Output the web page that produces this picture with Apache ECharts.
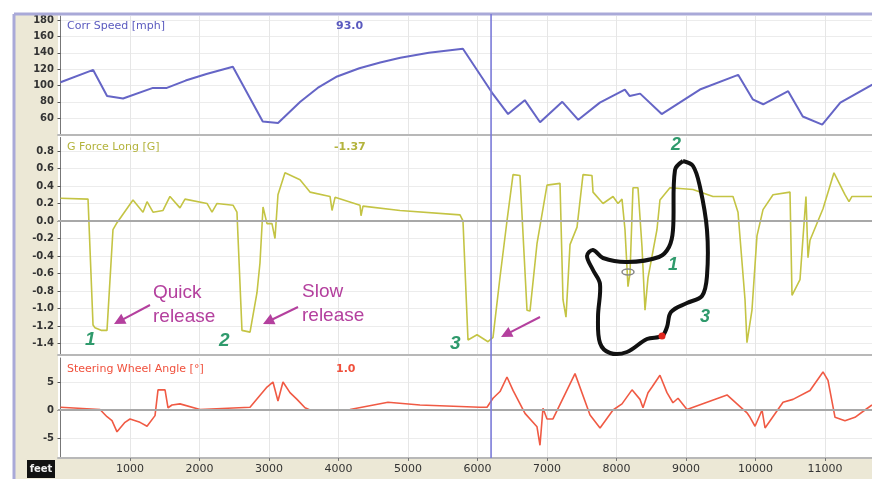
<!DOCTYPE html>
<html>
<head>
<meta charset="utf-8">
<script src="https://cdn.jsdelivr.net/npm/echarts@6/dist/echarts.min.js"></script>
<style>
    html, body { margin: 0; padding: 0; background: #fff; }
    #chart { width: 872px; height: 479px; }
</style>
</head>
<body>
<div id="chart"></div>
<script>
// distance along the lap (feet) and the three logged channels
const speedDist = [0, 470, 670, 900, 1330, 1530, 1800, 2100, 2480, 2910, 3130, 3450, 3700, 3980, 4300, 4600, 4890, 5300, 5790, 6210, 6440, 6680, 6900, 7220, 7450, 7760, 8120, 8190, 8340, 8650, 9200, 9750, 9960, 10110, 10470, 10680, 10960, 11220, 11680]
const speedVal = [104, 119, 87, 84, 97, 97, 106, 114, 123, 56, 54, 80, 97, 111, 121, 128, 134, 140, 145, 91, 65, 82, 55, 80, 58, 79, 95, 87, 90, 65, 95, 113, 83, 77, 93, 62, 52, 79, 101]

const gDist = [0, 396, 468, 496, 583, 669, 755, 813, 1043, 1187, 1245, 1331, 1475, 1575, 1719, 1791, 2108, 2180, 2252, 2482, 2539, 2611, 2727, 2827, 2870, 2914, 2971, 3043, 3086, 3129, 3230, 3446, 3590, 3878, 3907, 3950, 4309, 4324, 4352, 4885, 5748, 5791, 5863, 5993, 6151, 6223, 6324, 6424, 6511, 6611, 6712, 6755, 6856, 7000, 7187, 7230, 7273, 7331, 7432, 7518, 7647, 7662, 7806, 7950, 8021, 8079, 8122, 8165, 8194, 8237, 8309, 8367, 8410, 8453, 8582, 8625, 8769, 9100, 9388, 9676, 9748, 9849, 9877, 9949, 10021, 10108, 10252, 10496, 10525, 10640, 10726, 10755, 10784, 10971, 11129, 11287, 11345, 11388, 11676]
const gVal = [0.26, 0.25, -1.19, -1.22, -1.25, -1.25, -0.1, -0.02, 0.24, 0.1, 0.22, 0.1, 0.12, 0.28, 0.15, 0.25, 0.2, 0.1, 0.2, 0.18, 0.1, -1.25, -1.27, -0.82, -0.48, 0.16, -0.03, -0.03, -0.2, 0.3, 0.55, 0.47, 0.33, 0.28, 0.12, 0.27, 0.18, 0.06, 0.17, 0.12, 0.07, 0.0, -1.36, -1.3, -1.38, -1.33, -0.64, 0.0, 0.53, 0.52, -1.02, -1.03, -0.26, 0.41, 0.43, -0.9, -1.1, -0.27, -0.07, 0.53, 0.52, 0.33, 0.2, 0.28, 0.2, 0.25, -0.1, -0.75, -0.6, 0.38, 0.38, -0.3, -1.02, -0.65, -0.1, 0.24, 0.38, 0.36, 0.28, 0.28, 0.1, -0.9, -1.39, -1.02, -0.17, 0.13, 0.3, 0.33, -0.85, -0.67, 0.28, -0.42, -0.22, 0.14, 0.55, 0.3, 0.22, 0.28, 0.28]

const steerDist = [0, 568, 669, 741, 813, 928, 1000, 1144, 1245, 1360, 1403, 1504, 1547, 1604, 1719, 2007, 2727, 2971, 3057, 3129, 3201, 3302, 3403, 3518, 3590, 4165, 4712, 5172, 6036, 6137, 6223, 6324, 6424, 6511, 6683, 6856, 6899, 6942, 7000, 7086, 7403, 7619, 7763, 7950, 8079, 8223, 8338, 8381, 8453, 8511, 8625, 8726, 8812, 8885, 9014, 9590, 9877, 9921, 9993, 10094, 10137, 10396, 10539, 10784, 10971, 11043, 11144, 11287, 11431, 11575, 11676]
const steerVal = [0.5, 0.1, -1.2, -1.9, -3.9, -2.2, -1.6, -2.2, -2.9, -1.0, 3.6, 3.6, 0.4, 0.9, 1.1, 0.1, 0.5, 4.1, 5.0, 1.6, 5.0, 3.1, 1.9, 0.4, 0.0, 0.1, 1.4, 0.9, 0.5, 0.5, 2.1, 3.3, 5.9, 3.5, -0.6, -3.0, -6.3, 0.3, -1.6, -1.6, 6.5, -0.9, -3.2, 0.0, 1.1, 3.6, 1.9, 0.4, 3.1, 4.1, 6.2, 3.1, 1.3, 2.1, 0.1, 2.7, -0.5, -1.3, -2.9, 0.0, -3.2, 1.4, 1.9, 3.5, 6.8, 5.3, -1.3, -1.9, -1.3, 0.0, 0.9]

const xTicks = [1000, 2000, 3000, 4000, 5000, 6000, 7000, 8000, 9000, 10000, 11000]
const speedTicks = [60, 80, 100, 120, 140, 160, 180]
const gTicks = [-1.4, -1.2, -1.0, -0.8, -0.6, -0.4, -0.2, 0.0, 0.2, 0.4, 0.6, 0.8]
const steerTicks = [-5, 0, 5]

const cursorDist = 6195
const readouts = ['93.0', '-1.37', '1.0']

const pairs = (xs, ys) => xs.map((x, i) => [x, ys[i]])

const labelFont = { fontFamily: 'DejaVu Sans', fontSize: 10, color: '#333', fontWeight: 'bold' }
const noteFont = 'Liberation Sans'
const purple = '#b4409e'
const green = '#2f9a6c'

const xAxisBase = (gridIndex, showLabels) => ({
    type: 'value',
    gridIndex,
    min: -36,
    max: 11676,
    axisLine: { show: true, onZero: false, lineStyle: { color: '#b8b8b8', width: 2 } },
    axisTick: { show: showLabels, customValues: xTicks, length: 3, lineStyle: { color: '#777' } },
    axisLabel: {
        show: showLabels, customValues: xTicks, ...labelFont, fontWeight: 'normal', fontSize: 11, margin: 6,
        formatter: v => String(v)
    },
    splitLine: { show: true, lineStyle: { color: '#e6e6e6' } },
})

const yAxisBase = (gridIndex, min, max, ticks, digits) => ({
    type: 'value',
    gridIndex,
    min,
    max,
    axisLine: { show: true, lineStyle: { color: '#777' } },
    axisTick: { show: true, customValues: ticks, length: 3, lineStyle: { color: '#555' } },
    axisLabel: { customValues: ticks, ...labelFont, margin: 4, formatter: v => v.toFixed(digits) },
    splitLine: { show: true, lineStyle: { color: '#ececec' } },
})

const zeroLine = {
    silent: true,
    symbol: 'none',
    label: { show: false },
    lineStyle: { color: '#a8a8a8', width: 2, type: 'solid' },
    data: [{ yAxis: 0 }],
}

const chart = echarts.init(document.getElementById('chart'))

const option = {
    animation: false,
    backgroundColor: '#fff',
    grid: [
        { left: 58, right: 0, top: 16, height: 118.5 },
        { left: 58, right: 0, top: 137.5, height: 217 },
        { left: 58, right: 0, top: 358, height: 100 },
    ],
    xAxis: [xAxisBase(0, false), xAxisBase(1, false), xAxisBase(2, true)],
    yAxis: [
        yAxisBase(0, 40, 185, speedTicks, 0),
        yAxisBase(1, -1.526, 0.954, gTicks, 1),
        yAxisBase(2, -8.57, 9.29, steerTicks, 0),
    ],
    series: [
        {
            name: 'Corr Speed [mph]',
            type: 'line',
            xAxisIndex: 0,
            yAxisIndex: 0,
            data: pairs(speedDist, speedVal),
            showSymbol: false,
            clip: false,
            lineStyle: { color: '#6565c6', width: 2 },
        },
        {
            name: 'G Force Long [G]',
            type: 'line',
            xAxisIndex: 1,
            yAxisIndex: 1,
            data: pairs(gDist, gVal),
            showSymbol: false,
            lineStyle: { color: '#c4c444', width: 1.6 },
            markLine: zeroLine,
            z: 3,
        },
        {
            name: 'Steering Wheel Angle [°]',
            type: 'line',
            xAxisIndex: 2,
            yAxisIndex: 2,
            data: pairs(steerDist, steerVal),
            showSymbol: false,
            clip: false,
            lineStyle: { color: '#f05a44', width: 1.6 },
            markLine: zeroLine,
            z: 3,
        },
    ],
}
chart.setOption(option)

// cursor position comes from the x scale
const cursorX = chart.convertToPixel({ xAxisIndex: 0 }, cursorDist)

const arrow = (x1, y1, x2, y2) => {
    const a = Math.atan2(y2 - y1, x2 - x1)
    const s = 8
    return [
        { type: 'line', shape: { x1, y1, x2: x2 - Math.cos(a) * s, y2: y2 - Math.sin(a) * s }, style: { stroke: purple, lineWidth: 2 }, z: 20 },
        {
            type: 'polygon',
            shape: {
                points: [
                    [x2, y2],
                    [x2 - Math.cos(a) * s * 1.4 + Math.sin(a) * s * 0.7, y2 - Math.sin(a) * s * 1.4 - Math.cos(a) * s * 0.7],
                    [x2 - Math.cos(a) * s * 1.4 - Math.sin(a) * s * 0.7, y2 - Math.sin(a) * s * 1.4 + Math.cos(a) * s * 0.7],
                ]
            },
            style: { fill: purple },
            z: 20,
        },
    ]
}

const txt = (x, y, text, fill, fontSize, extra = {}) => ({
    type: 'text', x, y, z: 20,
    style: { text, fill, fontSize, fontFamily: noteFont, ...extra },
})

const header = (y, title, value, color) => [
    txt(67, y, title, color, 11, { fontFamily: 'DejaVu Sans', verticalAlign: 'middle' }),
    txt(value.startsWith('-') ? 334 : 336, y, value, color, 11, { fontFamily: 'DejaVu Sans', fontWeight: 'bold', verticalAlign: 'middle' }),
]

const trackMap = [
    [683, 161], [675, 170], [673, 230], [669, 247], [659, 257], [627, 262], [603, 258],
    [593, 250], [587, 256], [593, 270], [600, 284], [598, 317], [600, 343], [610, 353],
    [627, 352], [647, 339], [662, 336], [667, 327], [671, 312], [687, 303], [702, 296],
    [707, 276], [707, 230], [700, 187], [693, 166], [683, 161],
]

chart.setOption({
    graphic: [
        // beige side strip and bottom strip
        { type: 'rect', shape: { x: 14, y: 14, width: 44, height: 465 }, style: { fill: '#ece8d6' }, z: -10 },
        { type: 'rect', shape: { x: 14, y: 459, width: 858, height: 20 }, style: { fill: '#ece8d6' }, z: -10 },
        { type: 'line', shape: { x1: 14, y1: 14, x2: 872, y2: 14 }, style: { stroke: '#a9a9d8', lineWidth: 3 }, z: 10 },
        { type: 'line', shape: { x1: 14, y1: 14, x2: 14, y2: 479 }, style: { stroke: '#a9a9d8', lineWidth: 3 }, z: 10 },
        { type: 'rect', shape: { x: 27, y: 460, width: 28, height: 18 }, style: { fill: '#111' }, z: 10 },
        txt(41, 469, 'feet', '#eee', 10, { fontFamily: 'DejaVu Sans', align: 'center', verticalAlign: 'middle', fontWeight: 'bold' }),

        // cursor
        { type: 'line', shape: { x1: cursorX, y1: 14, x2: cursorX, y2: 458 }, style: { stroke: '#7a7ad8', lineWidth: 1.6 }, z: 15 },

        ...header(26, 'Corr Speed [mph]', readouts[0], '#5a5abf'),
        ...header(147, 'G Force Long [G]', readouts[1], '#b3b33c'),
        ...header(369, 'Steering Wheel Angle [°]', readouts[2], '#f0503c'),

        // notes
        txt(153, 283, 'Quick', purple, 19),
        txt(153, 307, 'release', purple, 19),
        ...arrow(150, 305, 114, 324),
        txt(302, 282, 'Slow', purple, 19),
        txt(302, 306, 'release', purple, 19),
        ...arrow(298, 307, 263, 324),
        ...arrow(540, 317, 501, 337),

        txt(85, 330, '1', green, 19, { fontStyle: 'italic', fontWeight: 'bold' }),
        txt(219, 331, '2', green, 19, { fontStyle: 'italic', fontWeight: 'bold' }),
        txt(450, 334, '3', green, 19, { fontStyle: 'italic', fontWeight: 'bold' }),

        // track map
        { type: 'polyline', shape: { points: trackMap, smooth: 0.35 }, style: { stroke: '#111', lineWidth: 4, fill: null }, z: 18 },
        { type: 'circle', shape: { cx: 662, cy: 336, r: 3.5 }, style: { fill: '#e0261e' }, z: 19 },
        { type: 'ellipse', shape: { cx: 628, cy: 272, rx: 6, ry: 3 }, style: { fill: 'none', stroke: '#888', lineWidth: 1.5 }, z: 19 },
        txt(668, 256, '1', green, 18, { fontStyle: 'italic', fontWeight: 'bold' }),
        txt(671, 136, '2', green, 18, { fontStyle: 'italic', fontWeight: 'bold' }),
        txt(700, 308, '3', green, 18, { fontStyle: 'italic', fontWeight: 'bold' }),
    ]
})
</script>
</body>
</html>
